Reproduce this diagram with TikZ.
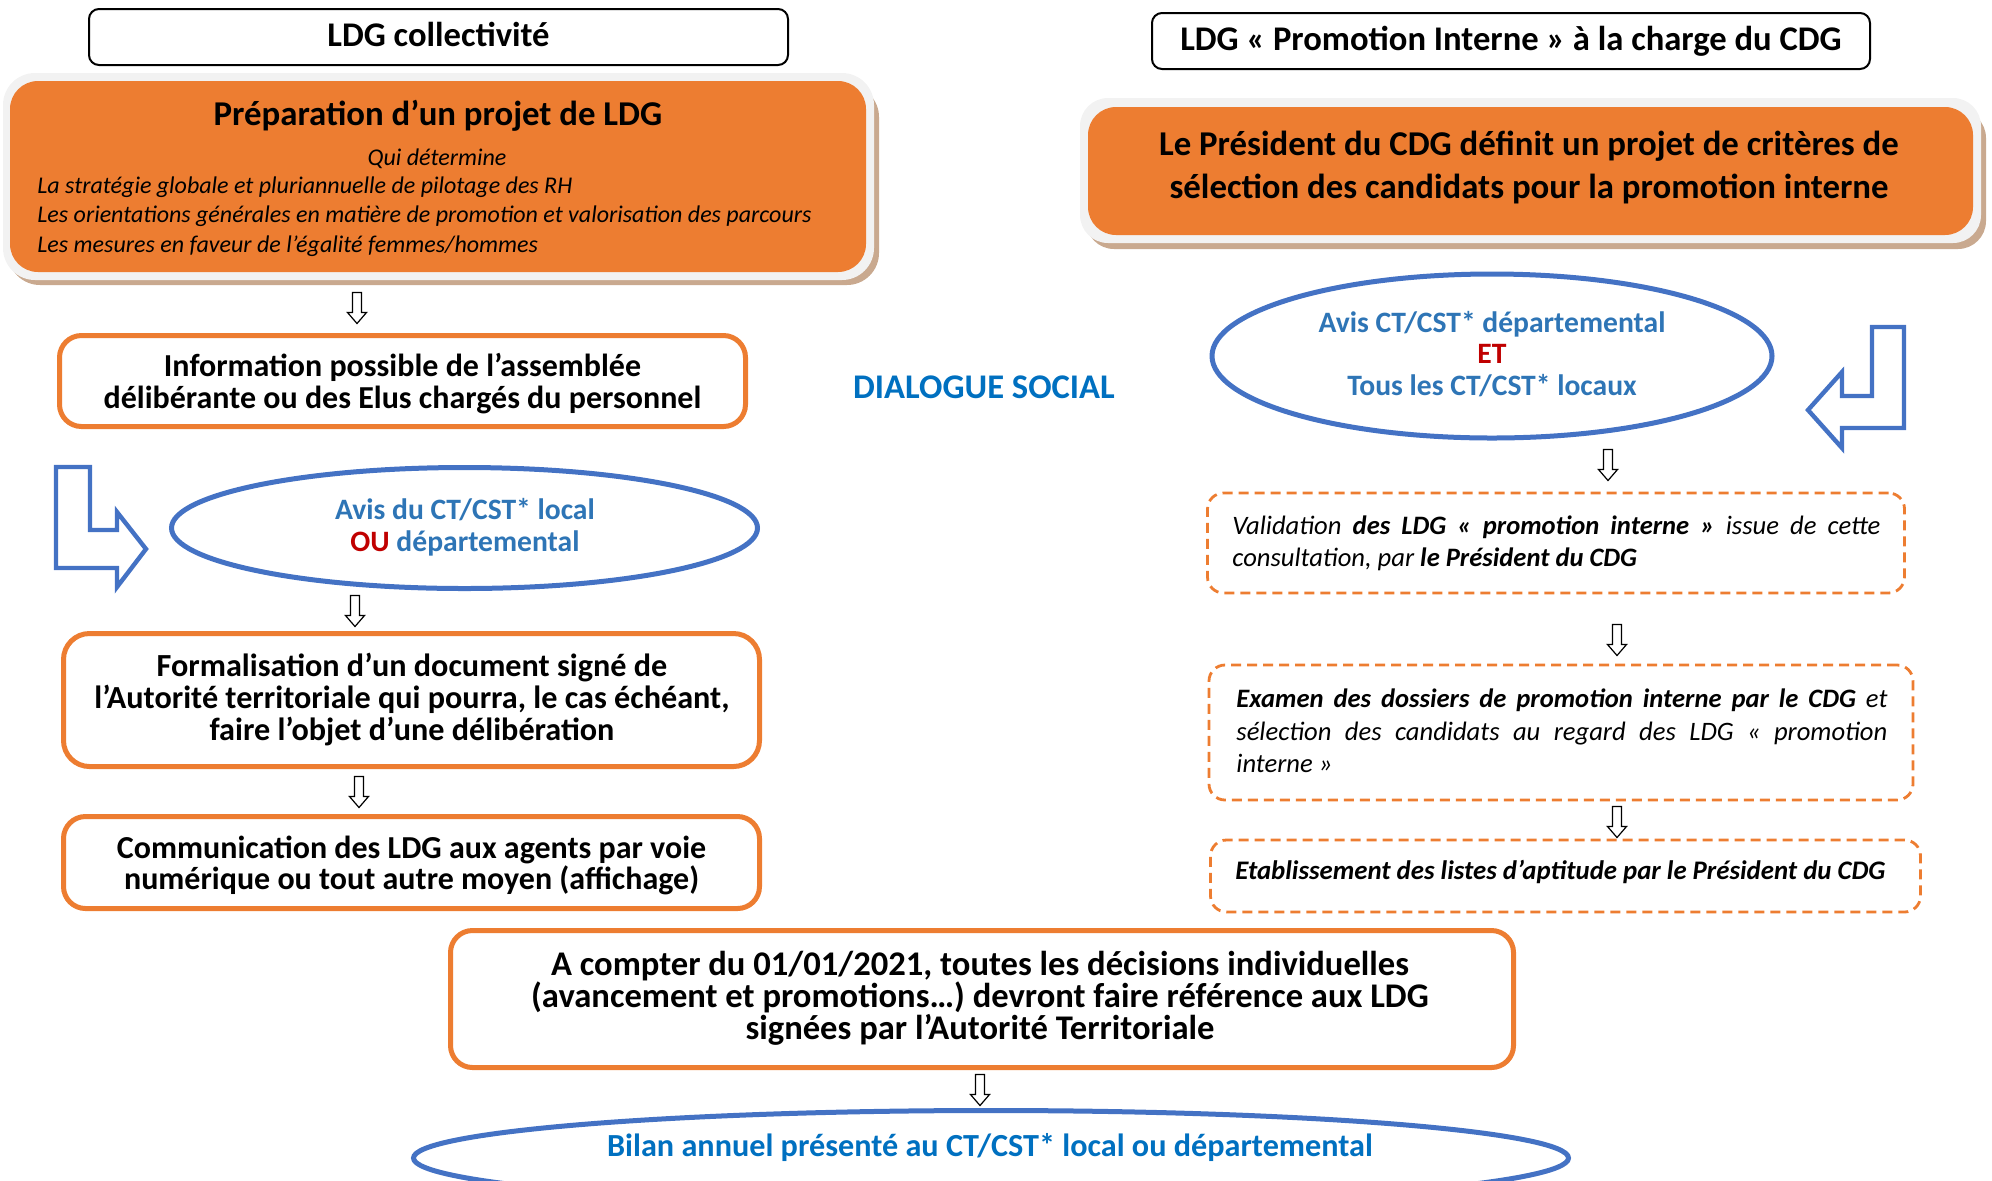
\documentclass[tikz,border=0pt]{standalone}
\usepackage{fontspec}
\setmainfont{Carlito}
\usetikzlibrary{shapes.geometric}
\definecolor{orng}{HTML}{ED7D31}
\definecolor{blu}{HTML}{4472C4}
\definecolor{txtblu}{HTML}{2E75B6}
\definecolor{dblu}{HTML}{0070C0}
\definecolor{rd}{HTML}{C00000}
\definecolor{lgray}{HTML}{F2F2F2}
\definecolor{tanc}{HTML}{C9A98F}
\newcommand\fsz[2]{\fontsize{#1}{#2}\selectfont}
\newcommand\fl{\rule{0pt}{0.9\baselineskip}}
\tikzset{
 hdr/.style={draw=black, line width=1pt, rounded corners=5pt, fill=white, inner sep=0pt},
 obox/.style={draw=orng, line width=2.5pt, rounded corners=11pt, fill=white, inner sep=0pt},
 ofill/.style={fill=orng, rounded corners=14pt, inner sep=0pt},
 dbox/.style={draw=orng, line width=1.4pt, dash pattern=on 5pt off 3pt, rounded corners=8pt, inner sep=0pt},
 ell/.style={ellipse, draw=blu, line width=2.5pt, inner sep=0pt, fill=white},
 txt/.style={inner sep=0pt, align=center, execute at begin node={\lineskiplimit=-50pt\relax}},
 harrow/.style={draw=black, line width=0.6pt, fill=white},
 larrow/.style={draw=blu, line width=2.2pt, fill=white, line join=miter},
 pics/hdown/.style={code={\draw[harrow] (-4.5,-15.5) -- (4.5,-15.5) -- (4.5,4.5) -- (9.5,4.5) -- (0,15.5) -- (-9.5,4.5) -- (-4.5,4.5) -- cycle;}},
}
\begin{document}
\begin{tikzpicture}[x=0.5pt,y=-0.5pt]
\useasboundingbox (0,0) rectangle (1992,1180);
% ---------- headers
\node[hdr, minimum width=349.5pt, minimum height=28pt] (hdrL) at (438.5,37) {};
\node[txt, anchor=base, font=\fsz{17.3}{20}\bfseries] (hdrLt) at (438.5,46) {LDG collectivité};
\node[hdr, minimum width=359pt, minimum height=28pt] (hdrR) at (1511,41) {};
\node[txt, anchor=base, font=\fsz{17.3}{20}\bfseries] (hdrRt) at (1511,50) {LDG « Promotion Interne » à la charge du CDG};
% ---------- preparation
\fill[tanc, rounded corners=16pt] (8,85) rectangle (879,285);
\fill[lgray, rounded corners=16pt] (3,73) rectangle (874,280);
\node[ofill, minimum width=428pt, minimum height=95.5pt] (prep) at (438,176.5) {};
\node[txt, anchor=base, font=\fsz{17.4}{20}\bfseries] (prepT) at (438,125) {Préparation d’un projet de LDG};
\node[txt, anchor=base, font=\fsz{12}{14.5}\itshape] (qui) at (437,165) {Qui détermine};
\node[txt, anchor=north west, align=left, font=\fsz{12}{14.75}\itshape] (list) at (37,166.45)
 {\fl La stratégie globale et pluriannuelle de pilotage des RH\strut\\Les orientations générales en matière de promotion et valorisation des parcours\strut\\Les mesures en faveur de l’égalité femmes/hommes\strut};
% ---------- president
\fill[tanc, rounded corners=14pt] (1086,110) rectangle (1986,249);
\fill[lgray, rounded corners=14pt] (1080,98) rectangle (1981,243);
\node[ofill, minimum width=442.5pt, minimum height=64pt] (pres) at (1530.5,171) {};
\node[txt, anchor=north, font=\fsz{17.4}{21.5}\bfseries] (presT) at (1529,116)
 {\fl Le Président du CDG définit un projet de critères de\strut\\sélection des candidats pour la promotion interne\strut};
% ---------- left column
\node[obox, minimum width=343pt, minimum height=45.5pt] (info) at (402.5,381) {};
\node[txt, anchor=north, font=\fsz{16}{16}\bfseries] (infoT) at (402.5,347.5)
 {\fl Information possible de l’assemblée\strut\\délibérante ou des Elus chargés du personnel\strut};
\node[ell, minimum width=293pt, minimum height=60.5pt] (ellL) at (464.5,528) {};
\node[txt, anchor=north, font=\fsz{14.8}{16}\bfseries, text=txtblu] (ellLt) at (465,490)
 {\fl Avis du CT/CST* local\strut\\\textcolor{rd}{OU} départemental\strut};
\node[obox, rounded corners=13pt, minimum width=348pt, minimum height=66.5pt] (form) at (411.5,700) {};
\node[txt, anchor=north, font=\fsz{16.1}{15.9}\bfseries] (formT) at (412,647.4)
 {\fl Formalisation d’un document signé de\strut\\l’Autorité territoriale qui pourra, le cas échéant,\strut\\faire l’objet d’une délibération\strut};
\node[obox, minimum width=348pt, minimum height=46pt] (comm) at (411.5,862.5) {};
\node[txt, anchor=north, font=\fsz{16}{15.6}\bfseries] (commT) at (411.6,830)
 {\fl Communication des LDG aux agents par voie\strut\\numérique ou tout autre moyen (affichage)\strut};
\draw[larrow] (56,467) -- (90,467) -- (90,530) -- (117,530) -- (117,512) -- (146,549) -- (117,587) -- (117,568) -- (56,568) -- cycle;
% ---------- middle
\node[txt, anchor=base, font=\fsz{17.3}{20}\bfseries, text=dblu] (dial) at (984,398) {DIALOGUE SOCIAL};
% ---------- right column
\node[ell, minimum width=280pt, minimum height=82pt] (ellR) at (1492,356) {};
\node[txt, anchor=north, font=\fsz{14.8}{15.75}\bfseries, text=txtblu] (ellRt) at (1492,303.65)
 {\fl Avis CT/CST* départemental\strut\\\textcolor{rd}{ET}\strut\\Tous les CT/CST* locaux\strut};
\draw[larrow] (1904,327) -- (1872,327) -- (1872,396) -- (1842,396) -- (1842,372) -- (1808,410) -- (1842,448) -- (1842,428) -- (1904,428) -- cycle;
\node[dbox, minimum width=348.5pt, minimum height=50pt] (valid) at (1556,543) {};
\node[txt, anchor=north west, text width=324pt, align=justify, font=\fsz{13.3}{16}\itshape] (validT) at (1232,505)
 {\fl Validation \textbf{des LDG «~promotion interne~»} issue de cette\linebreak consultation, par \textbf{le Président du CDG}\strut};
\node[dbox, minimum width=352pt, minimum height=67.5pt] (exam) at (1561,732.5) {};
\node[txt, anchor=north west, text width=325.5pt, align=justify, font=\fsz{13.3}{16.25}\itshape] (examT) at (1236,678)
 {\fl\textbf{Examen des dossiers de promotion interne par le CDG} et\linebreak sélection des candidats au regard des LDG «~promotion\linebreak interne~»\strut};
\node[dbox, minimum width=355pt, minimum height=36pt] (etab) at (1565.5,876) {};
\node[txt, anchor=base west, font=\fsz{13.4}{16}\bfseries\itshape] (etabT) at (1235,879)
 {Etablissement des listes d’aptitude par le Président du CDG};
% ---------- bottom
\node[obox, minimum width=531.5pt, minimum height=68.5pt] (acpt) at (982,999) {};
\node[txt, anchor=north, font=\fsz{17.3}{16}\bfseries] (acptT) at (980,946.7)
 {\fl A compter du 01/01/2021, toutes les décisions individuelles\strut\\(avancement et promotions…) devront faire référence aux LDG\strut\\signées par l’Autorité Territoriale\strut};
\node[ell, minimum width=577.5pt, minimum height=47.5pt] (bilan) at (991,1158) {};
\node[txt, anchor=base, font=\fsz{16.1}{18}\bfseries, text=dblu] (bilanT) at (990,1156)
 {Bilan annuel présenté au CT/CST* local ou départemental};
% ---------- hollow arrows
\pic (a1) at (357,308) {hdown};
\pic (a2) at (355,611) {hdown};
\pic (a3) at (359,792) {hdown};
\pic (a4) at (1608,465) {hdown};
\pic (a5) at (1617,640) {hdown};
\pic (a6) at (1617,822) {hdown};
\pic (a7) at (980,1090) {hdown};
\end{tikzpicture}
\end{document}
